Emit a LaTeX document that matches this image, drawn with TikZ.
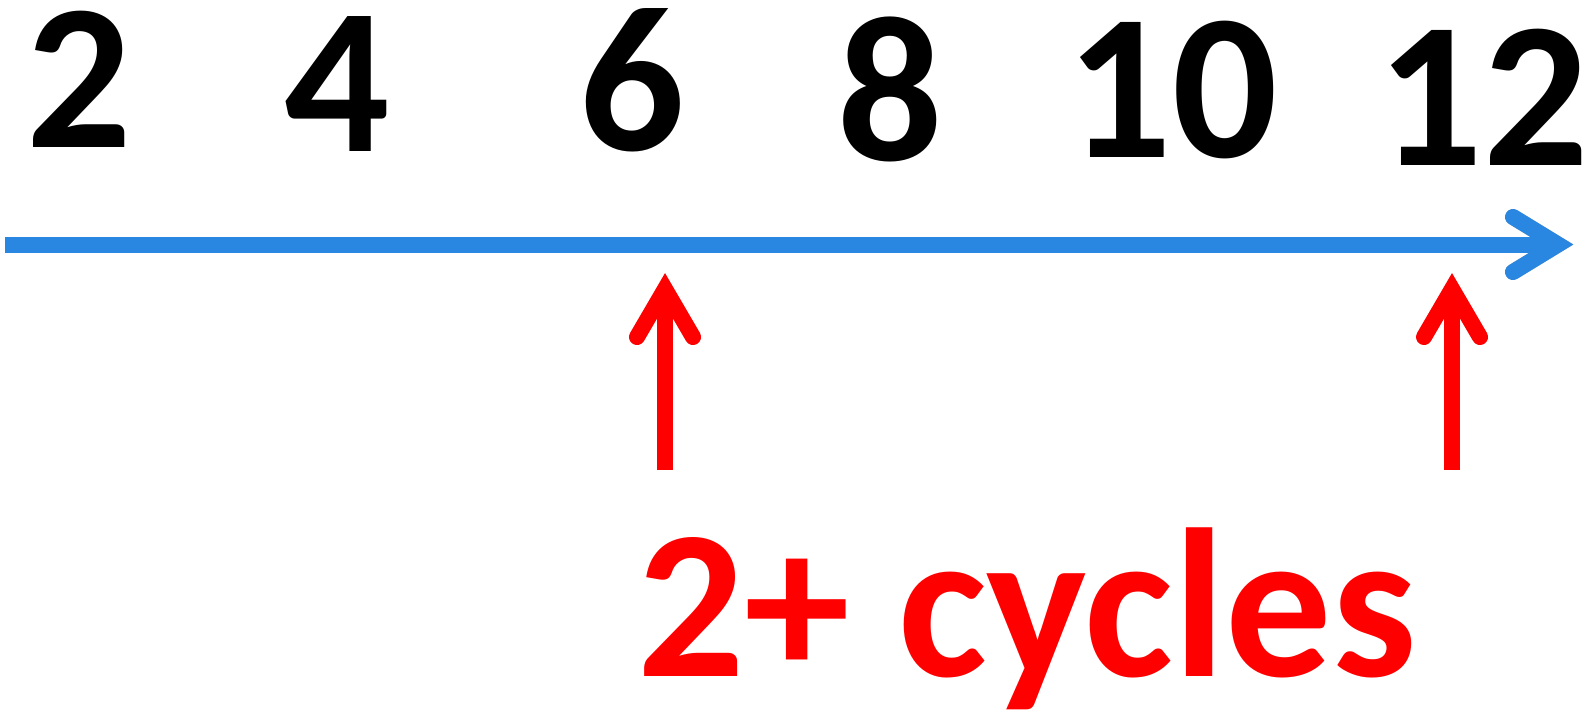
\documentclass[tikz,border=0pt]{standalone}
\usepackage{fontspec}
\setmainfont{Carlito}
\definecolor{lineblue}{RGB}{41,135,225}
\definecolor{arrred}{RGB}{255,0,0}
\begin{document}
\begin{tikzpicture}[x=0.5pt,y=-0.5pt,
  num/.style={inner sep=0pt, anchor=base, text height=68pt, text depth=0pt, font=\fontsize{104}{104}\selectfont\bfseries},
  lbl/.style={inner sep=0pt, anchor=base, text=arrred, text height=74pt, text depth=14pt, font=\fontsize{106}{106}\selectfont\bfseries},
  bluepath/.style={line width=8pt, draw=lineblue},
  redpath/.style={line width=8pt, draw=arrred},
  shadowpath/.style={line width=8pt, draw=#1}
]
\useasboundingbox[fill=white] (0,0) rectangle (1593,712);

% numbers
\node[num] (n2)  at (79,147)   {2};
\node[num] (n4)  at (337,151)  {4};
\node[num] (n6)  at (632,150)  {6};
\node[num] (n8)  at (890,160)  {8};
\node[num] (n10) at (1172,157) {10};
\node[num] (n12) at (1483,165) {12};

% blue axis arrow
\coordinate (bstart) at (5,245);
\coordinate (bend) at (1552,245);
\coordinate (btip) at (1558,244.5);
\coordinate (barmA) at (1513,217);
\coordinate (barmB) at (1513,272);
\begin{scope}[shift={(3,5)}]
\draw[shadowpath=gray!55, line cap=butt] (bstart) -- (bend);
\draw[shadowpath=gray!55, line cap=round, line join=miter] (barmA) -- (btip) -- (barmB);
\end{scope}
\draw[bluepath, line cap=butt] (bstart) -- (bend);
\draw[bluepath, line cap=round, line join=miter] (barmA) -- (btip) -- (barmB);

% red arrows
\foreach \i/\x in {a/665,b/1452}{
  \coordinate (r\i base) at (\x,470);
  \coordinate (r\i tip) at (\x,289);
  \coordinate (r\i L) at (\x-28,337);
  \coordinate (r\i R) at (\x+28,337);
  \begin{scope}[shift={(3,4)}]
  \draw[shadowpath=gray!20, line cap=butt] (r\i base) -- (r\i tip);
  \draw[shadowpath=gray!20, line cap=round, line join=miter] (r\i L) -- (r\i tip) -- (r\i R);
  \end{scope}
  \draw[redpath, line cap=butt] (r\i base) -- (r\i tip);
  \draw[redpath, line cap=round, line join=miter] (r\i L) -- (r\i tip) -- (r\i R);
}

% label
\node[lbl] (cyc) at (1027,676) {2+ cycles};
\end{tikzpicture}
\end{document}
